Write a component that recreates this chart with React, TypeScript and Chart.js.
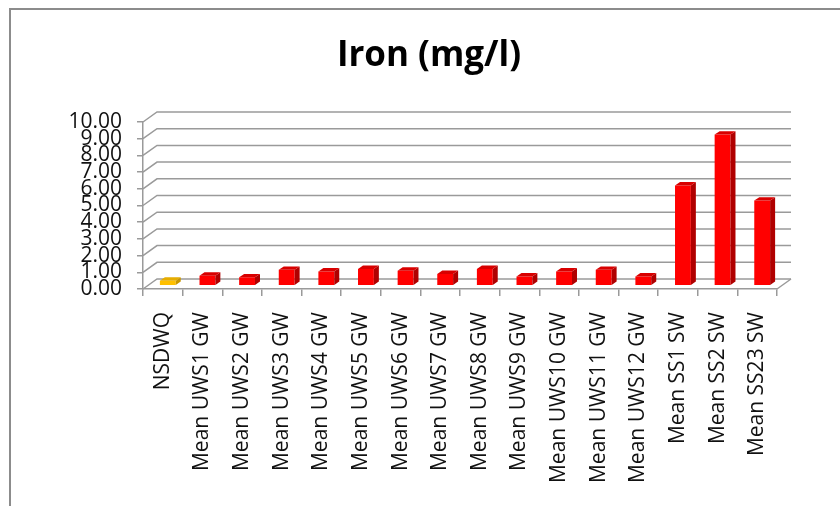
import React, { useEffect, useRef } from "react";
import { Chart, registerables } from "chart.js";

Chart.register(...registerables);

const categories = [
  "NSDWQ",
  "Mean UWS1 GW",
  "Mean UWS2 GW",
  "Mean UWS3 GW",
  "Mean UWS4 GW",
  "Mean UWS5 GW",
  "Mean UWS6 GW",
  "Mean UWS7 GW",
  "Mean UWS8 GW",
  "Mean UWS9 GW",
  "Mean UWS10 GW",
  "Mean UWS11 GW",
  "Mean UWS12 GW",
  "Mean SS1 SW",
  "Mean SS2 SW",
  "Mean SS23 SW",
];

const ironValues = [0.3, 0.6, 0.5, 0.95, 0.85, 1.0, 0.9, 0.7, 1.0, 0.55, 0.85, 0.95, 0.55, 6.0, 9.05, 5.1];

const titleText = "Iron (mg/l)";
const yMin = 0;
const yMax = 10;
const yStep = 1;

const frontColors = ironValues.map((_, i) => (i === 0 ? "#ffc000" : "#ff0000"));
const sideColors = ironValues.map((_, i) => (i === 0 ? "#c99700" : "#b00000"));
const topColors = ironValues.map((_, i) => (i === 0 ? "#e6ad00" : "#d80000"));

const WALL_DX = 14;
const WALL_DY = -10;
const BAR_DX = 5;
const BAR_DY = -3.3;
const BAR_DEPTH_X = 5;
const BAR_DEPTH_Y = -3.4;
const GRID_COLOR = "#9a9a9a";

const threeDPlugin = {
  id: "threeD",
  beforeDatasetsDraw(chart: any) {
    const { ctx, chartArea, scales } = chart;
    const y = scales.y;
    ctx.save();
    ctx.strokeStyle = GRID_COLOR;
    ctx.lineWidth = 1.5;
    for (let v = yMin; v <= yMax; v += yStep) {
      const py = y.getPixelForValue(v);
      ctx.beginPath();
      ctx.moveTo(chartArea.left, py);
      ctx.lineTo(chartArea.left + WALL_DX, py + WALL_DY);
      ctx.lineTo(chartArea.right + WALL_DX, py + WALL_DY);
      ctx.stroke();
    }
    const py0 = y.getPixelForValue(yMin);
    ctx.beginPath();
    ctx.moveTo(chartArea.right, py0);
    ctx.lineTo(chartArea.right + WALL_DX, py0 + WALL_DY);
    ctx.stroke();
    ctx.restore();
    ctx.save();
    ctx.translate(BAR_DX, BAR_DY);
  },
  afterDatasetsDraw(chart: any) {
    const { ctx } = chart;
    const meta = chart.getDatasetMeta(0);
    meta.data.forEach((bar: any, i: number) => {
      const { x, y, base, width } = bar.getProps(["x", "y", "base", "width"], true);
      const l = x - width / 2;
      const r = x + width / 2;
      ctx.fillStyle = sideColors[i];
      ctx.beginPath();
      ctx.moveTo(r, y);
      ctx.lineTo(r + BAR_DEPTH_X, y + BAR_DEPTH_Y);
      ctx.lineTo(r + BAR_DEPTH_X, base + BAR_DEPTH_Y);
      ctx.lineTo(r, base);
      ctx.closePath();
      ctx.fill();
      ctx.fillStyle = topColors[i];
      ctx.beginPath();
      ctx.moveTo(l, y);
      ctx.lineTo(l + BAR_DEPTH_X, y + BAR_DEPTH_Y);
      ctx.lineTo(r + BAR_DEPTH_X, y + BAR_DEPTH_Y);
      ctx.lineTo(r, y);
      ctx.closePath();
      ctx.fill();
    });
    ctx.restore();
  },
  afterDraw(chart: any) {
    const { ctx } = chart;
    ctx.save();
    ctx.strokeStyle = "#8c8c8c";
    ctx.lineWidth = 2;
    ctx.beginPath();
    ctx.moveTo(10, 506);
    ctx.lineTo(10, 9);
    ctx.lineTo(840, 9);
    ctx.stroke();
    ctx.fillStyle = "#000";
    ctx.font = "bold 35px 'Open Sans'";
    ctx.textAlign = "center";
    ctx.textBaseline = "alphabetic";
    ctx.fillText(titleText, 429, 66);
    ctx.restore();
  },
};

export default function App() {
  const ref = useRef<HTMLCanvasElement>(null);
  useEffect(() => {
    document.body.style.margin = "0";
    const chart = new Chart(ref.current as HTMLCanvasElement, {
      type: "bar",
      data: {
        labels: categories,
        datasets: [
          {
            data: ironValues,
            backgroundColor: frontColors,
            borderWidth: 0,
            barPercentage: 0.4,
            categoryPercentage: 1,
          },
        ],
      },
      options: {
        animation: false,
        responsive: false,
        layout: { padding: { left: 0, right: 63, top: 122, bottom: 0 } },
        plugins: { legend: { display: false }, tooltip: { enabled: false }, title: { display: false } },
        scales: {
          x: {
            offset: true,
            grid: { offset: true, drawOnChartArea: false, drawTicks: true, tickLength: 7, color: GRID_COLOR, lineWidth: 1.5 },
            border: { display: true, color: GRID_COLOR, width: 1.5 },
            ticks: {
              minRotation: 90,
              maxRotation: 90,
              autoSkip: false,
              padding: 16,
              color: "#111",
              font: { family: "'Open Sans'", size: 21 },
            },
            afterFit(scale: any) {
              scale.height = 217;
            },
          },
          y: {
            min: yMin,
            max: yMax,
            grid: { drawOnChartArea: false, drawTicks: true, tickLength: 6, color: GRID_COLOR, lineWidth: 1.5 },
            border: { display: true, color: GRID_COLOR, width: 1.5 },
            ticks: {
              stepSize: yStep,
              autoSkip: false,
              padding: 15,
              color: "#111",
              font: { family: "'Open Sans'", size: 21, lineHeight: 1 },
              callback: (v: any) => Number(v).toFixed(2),
            },
            afterFit(scale: any) {
              scale.width = 143;
            },
          },
        },
      },
      plugins: [threeDPlugin],
    });
    return () => chart.destroy();
  }, []);
  return (
    <div style={{ position: "absolute", left: 0, top: 0, width: 840, height: 506, background: "#fff" }}>
      <canvas ref={ref} width={840} height={506} />
    </div>
  );
}
